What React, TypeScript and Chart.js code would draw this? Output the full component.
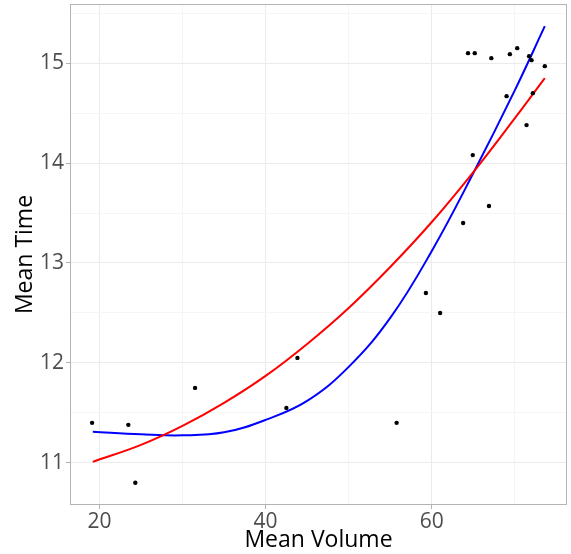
import React, { useEffect, useRef } from "react";
import { Chart, registerables } from "chart.js";

Chart.register(...registerables);

// Observed points
const volumeX = [64.36, 65.17, 67.16, 69.4, 70.28, 71.71, 72.0, 73.6, 69.0, 72.16, 71.4, 64.93, 66.88, 63.77, 59.29, 61.0, 43.83, 19.12, 23.48, 24.32, 31.51, 42.5, 55.77];
const timeY = [15.1, 15.1, 15.05, 15.09, 15.15, 15.07, 15.03, 14.97, 14.67, 14.7, 14.38, 14.08, 13.57, 13.4, 12.7, 12.5, 12.05, 11.4, 11.38, 10.8, 11.75, 11.55, 11.4];

// Red fitted curve
const redX = [19.2, 25, 30, 35, 40, 45, 50, 55, 60, 65, 70, 73.6];
const redY = [11.01, 11.18, 11.37, 11.6, 11.87, 12.19, 12.55, 12.96, 13.41, 13.91, 14.45, 14.85];

// Blue fitted curve
const blueX = [19.2, 25, 30, 35, 40, 45, 50, 55, 60, 65, 70, 73.6];
const blueY = [11.31, 11.285, 11.275, 11.305, 11.43, 11.62, 11.96, 12.45, 13.12, 13.9, 14.73, 15.37];

const xGrid = [20, 30, 40, 50, 60, 70];
const xTickLabels = [20, 40, 60];
const yGrid = [11, 11.5, 12, 12.5, 13, 13.5, 14, 14.5, 15, 15.5];
const yTickLabels = [11, 12, 13, 14, 15];

const xTitle = "Mean Volume";
const yTitle = "Mean Time";

const FONT = "'Open Sans', 'Noto Sans', sans-serif";

export default function App() {
  const ref = useRef<HTMLCanvasElement | null>(null);

  useEffect(() => {
    document.body.style.margin = "0";
    const canvas = ref.current;
    if (!canvas) return;

    const borderPlugin = {
      id: "panelBorder",
      afterDraw(chart: any) {
        const { ctx, chartArea } = chart;
        ctx.save();
        ctx.strokeStyle = "#b3b3b3";
        ctx.lineWidth = 1;
        ctx.strokeRect(chartArea.left + 0.5, chartArea.top + 0.5, chartArea.right - chartArea.left - 1, chartArea.bottom - chartArea.top - 1);
        ctx.restore();
      },
    };

    const isMajor = (v: number, labels: number[]) => labels.some((l) => Math.abs(l - v) < 1e-6);

    const chart = new Chart(canvas, {
      type: "scatter",
      data: {
        datasets: [
          {
            label: "points",
            data: volumeX.map((x, i) => ({ x, y: timeY[i] })),
            backgroundColor: "#000000",
            borderColor: "#000000",
            pointRadius: 2.2,
            pointBorderWidth: 0,
            showLine: false,
          },
          {
            label: "red",
            data: redX.map((x, i) => ({ x, y: redY[i] })),
            borderColor: "#ff0000",
            backgroundColor: "#ff0000",
            borderWidth: 2,
            pointRadius: 0,
            showLine: true,
            tension: 0.4,
          },
          {
            label: "blue",
            data: blueX.map((x, i) => ({ x, y: blueY[i] })),
            borderColor: "#0000ff",
            backgroundColor: "#0000ff",
            borderWidth: 2,
            pointRadius: 0,
            showLine: true,
            tension: 0.4,
          },
        ],
      },
      options: {
        animation: false,
        responsive: false,
        maintainAspectRatio: false,
        layout: { padding: { top: 3, right: 2, left: 0, bottom: 0 } },
        plugins: {
          legend: { display: false },
          tooltip: { enabled: false },
        },
        scales: {
          x: {
            type: "linear",
            min: 16.46,
            max: 76.27,
            afterBuildTicks: (scale: any) => {
              scale.ticks = xGrid.map((v) => ({ value: v }));
            },
            afterFit: (scale: any) => {
              scale.height = 49;
              scale.paddingLeft = 0;
              scale.paddingRight = 0;
            },
            border: { display: false },
            grid: {
              color: (c: any) => (isMajor(c.tick?.value, xTickLabels) ? "#ebebeb" : "#f5f5f5"),
              tickColor: (c: any) => (isMajor(c.tick?.value, xTickLabels) ? "#b3b3b3" : "rgba(0,0,0,0)"),
              tickLength: 4,
              lineWidth: 1,
            },
            ticks: {
              autoSkip: false,
              maxRotation: 0,
              padding: 0,
              color: "#4d4d4d",
              font: { family: FONT, size: 21 },
              callback: (v: any) => (isMajor(Number(v), xTickLabels) ? String(v) : ""),
            },
            title: {
              display: true,
              text: xTitle,
              color: "#000000",
              font: { family: FONT, size: 23 },
              padding: { top: 0, bottom: 0 },
            },
          },
          y: {
            type: "linear",
            min: 10.578,
            max: 15.592,
            afterBuildTicks: (scale: any) => {
              scale.ticks = yGrid.map((v) => ({ value: v }));
            },
            afterFit: (scale: any) => {
              scale.width = 70;
              scale.paddingTop = 0;
              scale.paddingBottom = 0;
            },
            border: { display: false },
            grid: {
              color: (c: any) => (isMajor(c.tick?.value, yTickLabels) ? "#ebebeb" : "#f5f5f5"),
              tickColor: (c: any) => (isMajor(c.tick?.value, yTickLabels) ? "#b3b3b3" : "rgba(0,0,0,0)"),
              tickLength: 4,
              lineWidth: 1,
            },
            ticks: {
              autoSkip: false,
              padding: 2,
              color: "#4d4d4d",
              font: { family: FONT, size: 21 },
              callback: (v: any) => (isMajor(Number(v), yTickLabels) ? String(v) : ""),
            },
            title: {
              display: true,
              text: yTitle,
              color: "#000000",
              font: { family: FONT, size: 23 },
              padding: { top: 12, bottom: 0 },
            },
          },
        },
      },
      plugins: [borderPlugin],
    } as any);

    return () => {
      chart.destroy();
    };
  }, []);

  return (
    <div style={{ position: "absolute", left: 0, top: 0, width: 571, height: 554 }}>
      <canvas ref={ref} width={571} height={554} style={{ width: 571, height: 554, display: "block" }} />
    </div>
  );
}
